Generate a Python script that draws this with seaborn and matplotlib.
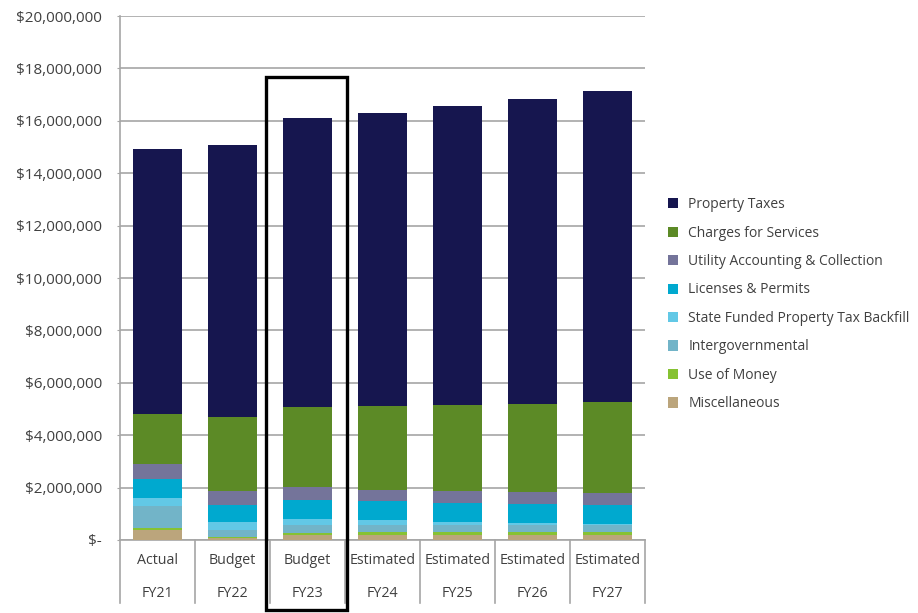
import numpy as np
import pandas as pd
import matplotlib
matplotlib.use("Agg")
import matplotlib.pyplot as plt
import matplotlib.ticker as mticker
from matplotlib.patches import Rectangle
import seaborn as sns

# Data
periods = ["Actual", "Budget", "Budget", "Estimated", "Estimated", "Estimated", "Estimated"]
years = ["FY21", "FY22", "FY23", "FY24", "FY25", "FY26", "FY27"]

miscellaneous = [380000, 60000, 200000, 200000, 200000, 200000, 200000]
use_of_money = [80000, 60000, 70000, 100000, 100000, 100000, 100000]
intergovernmental = [840000, 280000, 300000, 270000, 270000, 270000, 280000]
state_backfill = [300000, 280000, 230000, 200000, 120000, 80000, 30000]
licenses_permits = [730000, 650000, 730000, 700000, 720000, 720000, 730000]
utility_accounting = [570000, 530000, 490000, 450000, 460000, 460000, 450000]
charges_services = [1910000, 2820000, 3060000, 3200000, 3280000, 3360000, 3480000]
property_taxes = [10110000, 10390000, 11030000, 11190000, 11410000, 11640000, 11870000]

series_names = ["Miscellaneous", "Use of Money", "Intergovernmental",
                "State Funded Property Tax Backfill", "Licenses & Permits",
                "Utility Accounting & Collection", "Charges for Services", "Property Taxes"]
series_values = [miscellaneous, use_of_money, intergovernmental, state_backfill,
                 licenses_permits, utility_accounting, charges_services, property_taxes]
series_colors = ["#bba57c", "#86c232", "#72b4c8", "#62c8e6", "#00a9cf",
                 "#74749a", "#5c8a26", "#16164f"]

# cumulative stacks, drawn from the top down so each bar covers the one behind
df = pd.DataFrame(dict(zip(series_names, series_values)), index=years)
cum = df.cumsum(axis=1)

plt.rcParams["font.family"] = ["Open Sans", "DejaVu Sans"]
fig = plt.figure(figsize=(9.18, 6.13), dpi=100)
ax = fig.add_axes([120 / 918, 1 - 540 / 613, 525 / 918, 524 / 613])

for name, color in zip(series_names[::-1], series_colors[::-1]):
    sns.barplot(x=years, y=cum[name].values, color=color, width=0.66,
                saturation=1, ax=ax, label=name, zorder=3)

ax.set_ylim(0, 20000000)
ax.set_xlim(-0.5, 6.5)
ax.yaxis.set_major_locator(mticker.MultipleLocator(2000000))
ax.yaxis.set_major_formatter(mticker.FuncFormatter(
    lambda v, p: "$-" if v == 0 else "${:,.0f}".format(v)))
ax.grid(axis="y", color="#a6a6a6", linewidth=1.2, zorder=0)
ax.set_axisbelow(True)
for s in ["top", "right"]:
    ax.spines[s].set_visible(False)
ax.spines["left"].set_color("#a6a6a6")
ax.spines["bottom"].set_color("#a6a6a6")
ax.spines["left"].set_linewidth(1.2)
ax.spines["bottom"].set_linewidth(1.2)
ax.tick_params(axis="y", length=2, color="#a6a6a6", pad=11, labelsize=11,
               labelcolor="#404040")
ax.tick_params(axis="x", length=0, pad=9, labelsize=10.3, labelcolor="#404040")
ax.set_xticks(range(len(years)))
ax.set_xticklabels([p + "\n" + y for p, y in zip(periods, years)], linespacing=2.65)
ax.set_xlabel("")
ax.set_ylabel("")

# category separators below the axis
xt = ax.get_xaxis_transform()
for i in range(len(years) + 1):
    ax.plot([i - 0.5, i - 0.5], [0, -0.12], transform=xt, color="#a6a6a6",
            linewidth=1.2, clip_on=False)

# highlight box around FY23
ax.add_patch(Rectangle((1.45, -0.134), 1.08, 17670000 / 20000000 + 0.134,
                       transform=xt, fill=False, edgecolor="black",
                       linewidth=2.4, clip_on=False, zorder=5))

handles, labels = ax.get_legend_handles_labels()
ax.legend(handles, labels, loc="center left", bbox_to_anchor=(1.02, 0.45),
          frameon=False, fontsize=10, handlelength=0.75, handleheight=0.75,
          handletextpad=0.7, labelspacing=0.97, labelcolor="#404040")

fig.savefig("out.png", dpi=100)
